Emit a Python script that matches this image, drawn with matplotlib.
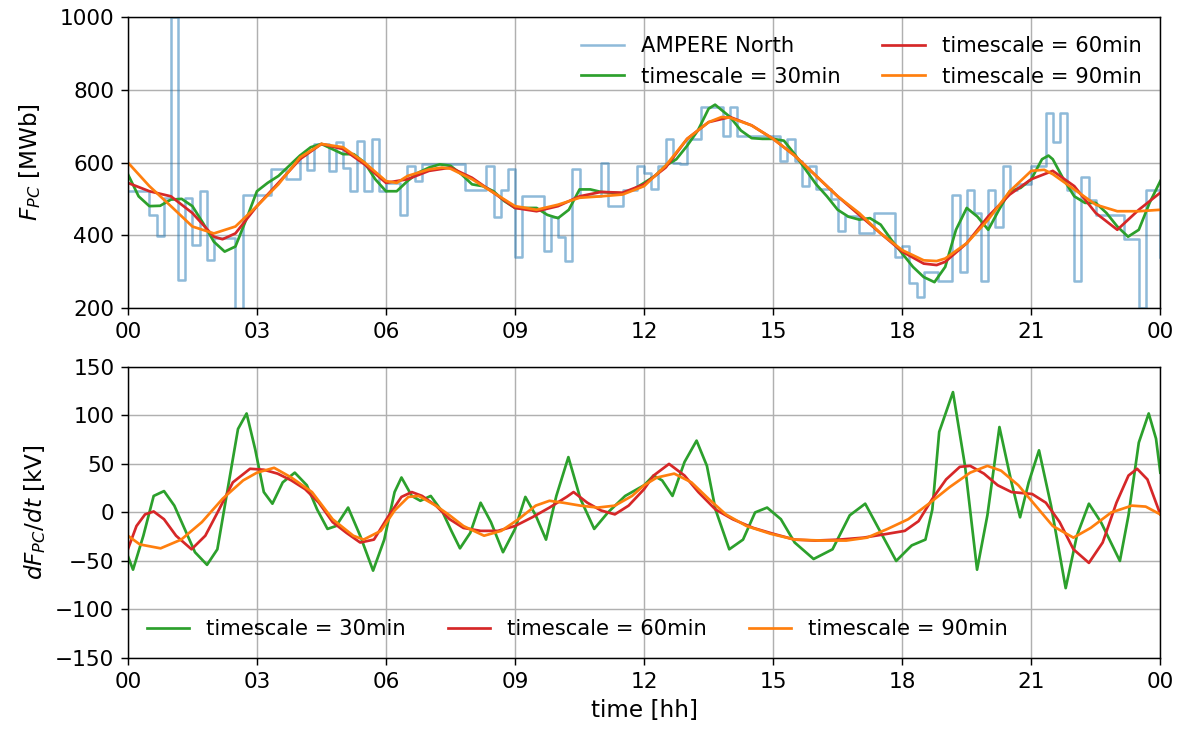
import matplotlib.pyplot as plt

# AMPERE North, 10-minute samples from 00:00 to 24:00
ampere_north = [
    522, 522, 522, 457, 397, 503,
    1000, 277, 503, 374, 522, 333,
    393, 393, 393, 195, 512, 512,
    512, 512, 582, 582, 555, 555,
    620, 580, 650, 650, 577, 655,
    586, 522, 660, 522, 665, 522,
    544, 544, 456, 590, 550, 595,
    595, 595, 595, 595, 595, 525,
    525, 525, 590, 451, 525, 581,
    340, 507, 507, 507, 358, 450,
    395, 330, 581, 507, 507, 507,
    600, 480, 480, 525, 525, 590,
    570, 526, 591, 664, 600, 595,
    664, 664, 752, 752, 752, 673,
    752, 673, 673, 673, 673, 673,
    673, 605, 664, 605, 536, 591,
    526, 526, 500, 411, 453, 453,
    407, 407, 462, 462, 462, 340,
    370, 270, 230, 300, 300, 275,
    275, 512, 300, 525, 460, 275,
    525, 423, 590, 525, 540, 540,
    590, 590, 735, 656, 735, 525,
    275, 560, 498, 456, 456, 456,
    456, 390, 390, 200, 525, 525,
    340,
]
t_ampere = [i / 6 for i in range(len(ampere_north))]

# smoothed F_PC
t_f30 = [0, 0.25, 0.5, 0.75, 1, 1.25, 1.5, 1.75, 2, 2.25, 2.5, 2.75, 3, 3.25, 3.5, 3.75,
         4, 4.25, 4.5, 4.75, 5, 5.25, 5.5, 5.75, 6, 6.25, 6.5, 6.75, 7, 7.25, 7.5, 7.75,
         8, 8.25, 8.5, 8.75, 9, 9.25, 9.5, 9.75, 10, 10.25, 10.5, 10.75, 11, 11.25, 11.5, 11.75,
         12, 12.25, 12.5, 12.75, 13, 13.25, 13.5, 13.65, 14, 14.25, 14.5, 14.75, 15, 15.25, 15.5, 15.75,
         16, 16.25, 16.5, 16.75, 17, 17.25, 17.5, 17.75, 18, 18.25, 18.5, 18.75, 19, 19.25, 19.5, 19.75,
         20, 20.25, 20.5, 20.75, 21, 21.25, 21.4, 21.5, 21.75, 22, 22.25, 22.5, 22.75, 23, 23.25, 23.5, 23.75, 24]
f30 = [568, 507, 480, 481, 498, 500, 480, 433, 382, 355, 369, 443, 521, 544, 563, 591,
       619, 642, 651, 637, 623, 623, 600, 554, 521, 521, 549, 572, 586, 595, 591, 568,
       540, 535, 521, 494, 475, 475, 475, 456, 447, 470, 526, 526, 519, 517, 515, 526,
       544, 563, 591, 609, 646, 688, 748, 759, 725, 688, 667, 665, 665, 660, 623, 581,
       540, 507, 470, 451, 443, 447, 429, 387, 350, 313, 285, 271, 313, 415, 475, 451,
       415, 470, 521, 530, 554, 609, 619, 609, 554, 507, 489, 489, 461, 424, 396, 415, 489, 549]

t_f60 = [0, 0.5, 1, 1.5, 2, 2.2, 2.5, 3, 3.5, 4, 4.5, 5, 5.5, 6, 6.5, 7, 7.5, 8, 8.5, 9, 9.5,
         10, 10.5, 11, 11.5, 12, 12.5, 13, 13.5, 14, 14.5, 15, 15.5, 16, 16.5, 17, 17.5, 18,
         18.5, 18.8, 19, 19.5, 20, 20.5, 21, 21.5, 22, 22.5, 23, 23.5, 24]
f60 = [544, 521, 507, 461, 396, 389, 405, 480, 544, 609, 651, 637, 595, 544, 554, 577, 586, 558, 517, 475, 466,
       480, 507, 519, 517, 540, 586, 665, 711, 725, 702, 665, 619, 563, 507, 456, 405, 355,
       322, 318, 327, 378, 452, 512, 554, 577, 535, 461, 415, 470, 517]

t_f90 = [0, 0.5, 1, 1.5, 2, 2.5, 3, 3.5, 4, 4.5, 5, 5.5, 6, 6.25, 6.5, 7, 7.3, 7.5, 8, 8.5, 9, 9.5,
         10, 10.5, 11, 11.5, 12, 12.5, 13, 13.5, 13.8, 14, 14.5, 15, 15.5, 16, 16.5, 17, 17.5, 18,
         18.5, 18.8, 19, 19.5, 20, 20.5, 21, 21.3, 21.5, 22, 22.5, 23, 23.5, 24]
f90 = [600, 535, 480, 424, 405, 424, 480, 540, 614, 651, 642, 600, 549, 544, 563, 581, 586, 583, 554, 517, 480, 470,
       484, 503, 507, 512, 535, 591, 665, 711, 725, 723, 702, 665, 619, 563, 507, 461, 405, 359,
       331, 329, 336, 378, 443, 521, 577, 580, 568, 526, 484, 466, 466, 470]

# time derivatives dF_PC/dt
t_d30 = [0, 0.12, 0.36, 0.6, 0.84, 1.08, 1.32, 1.56, 1.84, 2.08, 2.32, 2.56, 2.76, 2.96, 3.16, 3.36,
         3.6, 3.88, 4.16, 4.4, 4.64, 4.84, 5.12, 5.4, 5.7, 5.96, 6.2, 6.36, 6.6, 6.8, 7.04, 7.32,
         7.52, 7.72, 7.96, 8.2, 8.44, 8.72, 9.0, 9.24, 9.48, 9.72, 9.96, 10.24, 10.52, 10.84, 11.16, 11.56,
         12.0, 12.22, 12.42, 12.66, 12.94, 13.22, 13.46, 13.66, 13.98, 14.3, 14.58, 14.86, 15.18, 15.5,
         15.94, 16.38, 16.78, 17.14, 17.42, 17.86, 18.22, 18.54, 18.7, 18.86, 19.18, 19.46, 19.74, 19.98,
         20.26, 20.54, 20.74, 20.94, 21.18, 21.46, 21.8, 22.06, 22.34, 22.62, 23.06, 23.26, 23.5, 23.73, 23.9, 24]
d30 = [-45, -59, -24, 17, 22, 7, -17, -41, -54, -38, 24, 86, 102, 65, 21, 9,
       31, 41, 28, 3, -17, -14, 5, -24, -60, -28, 21, 36, 17, 12, 17, 0,
       -19, -37, -21, 10, -10, -41, -17, 16, -3, -28, 17, 57, 14, -17, 0, 17,
       28, 38, 33, 17, 52, 74, 48, 3, -38, -28, 0, 5, -7, -31,
       -48, -38, -3, 9, -14, -50, -34, -28, 3, 83, 124, 48, -59, -3,
       88, 31, -5, 31, 64, 7, -78, -24, 9, -10, -50, -3, 72, 102, 76, 41]

t_d60 = [0, 0.2, 0.4, 0.6, 0.84, 1.12, 1.48, 1.8, 2.12, 2.44, 2.84, 3.16, 3.48, 3.8, 4.12, 4.44,
         4.76, 5.08, 5.4, 5.72, 6.04, 6.36, 6.6, 6.84, 7.16, 7.48, 7.8, 8.2, 8.6, 9.0, 9.4, 9.8,
         10.2, 10.36, 10.68, 11.0, 11.32, 11.64, 12.0, 12.22, 12.58, 12.94, 13.26, 13.66, 14.06, 14.54,
         15.0, 15.5, 15.98, 16.54, 17.1, 17.66, 18.06, 18.38, 18.7, 19.02, 19.34, 19.58, 19.9, 20.22,
         20.54, 21.02, 21.34, 21.66, 21.98, 22.34, 22.66, 22.98, 23.26, 23.46, 23.7, 24]
d60 = [-38, -14, -2, 1, -7, -24, -38, -24, 3, 31, 45, 44, 40, 33, 24, 10,
       -10, -21, -31, -28, -5, 16, 21, 17, 7, -7, -16, -19, -19, -14, -5, 5,
       16, 21, 10, 2, -2, 7, 24, 38, 50, 38, 21, 3, -7, -16,
       -22, -28, -29, -28, -26, -22, -19, -9, 14, 34, 47, 48, 40, 28,
       21, 19, 10, -10, -38, -52, -31, 10, 38, 45, 34, -2]

t_d90 = [0, 0.28, 0.76, 1.24, 1.72, 2.2, 2.68, 3.0, 3.4, 3.8, 4.28, 4.76, 5.24, 5.48, 5.88, 6.2,
         6.52, 6.76, 7.16, 7.48, 7.8, 8.28, 8.68, 9.08, 9.48, 9.8, 10.12, 10.52, 10.92, 11.32, 11.72,
         12.0, 12.3, 12.7, 13.1, 13.5, 13.9, 14.38, 14.94, 15.5, 16.14, 16.7, 17.18, 17.66, 18.14,
         18.62, 19.1, 19.58, 19.98, 20.3, 20.7, 21.1, 21.5, 21.98, 22.38, 22.86, 23.34, 23.66, 24]
d90 = [-24, -33, -37, -28, -10, 14, 33, 41, 46, 36, 21, -7, -24, -28, -19, 2,
       16, 17, 7, -3, -14, -24, -19, -7, 7, 12, 10, 7, 5, 7, 17,
       28, 36, 40, 31, 14, -2, -14, -22, -28, -29, -29, -26, -17, -7,
       9, 26, 41, 48, 43, 28, 7, -14, -26, -16, 0, 7, 6, -2]

hour_ticks = [0, 3, 6, 9, 12, 15, 18, 21, 24]
hour_labels = ["00", "03", "06", "09", "12", "15", "18", "21", "00"]

plt.rcParams["xtick.labelsize"] = 12
plt.rcParams["ytick.labelsize"] = 12
plt.rcParams["axes.labelsize"] = 12.8
plt.rcParams["legend.fontsize"] = 11.7
plt.rcParams["xtick.major.size"] = 4
plt.rcParams["ytick.major.size"] = 4

fig = plt.figure(figsize=(1184 / 130, 731 / 130), dpi=130)
ax1 = fig.add_axes([0.108, 0.5787, 0.872, 0.398])
ax2 = fig.add_axes([0.108, 0.0999, 0.872, 0.3982])

ax1.plot(t_ampere, ampere_north, color="tab:blue", alpha=0.5, lw=1.4,
         drawstyle="steps-post", label="AMPERE North")
ax1.plot(t_f30, f30, color="tab:green", lw=1.5, label="timescale = 30min")
ax1.plot(t_f60, f60, color="tab:red", lw=1.5, label="timescale = 60min")
ax1.plot(t_f90, f90, color="tab:orange", lw=1.5, label="timescale = 90min")
ax1.set_ylim(200, 1000)
ax1.set_yticks([200, 400, 600, 800, 1000])
ax1.set_ylabel("$F_{PC}$ [MWb]", labelpad=9)
ax1.legend(ncol=2, loc="upper right", frameon=False)

ax2.plot(t_d30, d30, color="tab:green", lw=1.5, label="timescale = 30min")
ax2.plot(t_d60, d60, color="tab:red", lw=1.5, label="timescale = 60min")
ax2.plot(t_d90, d90, color="tab:orange", lw=1.5, label="timescale = 90min")
ax2.set_ylim(-150, 150)
ax2.set_yticks([-150, -100, -50, 0, 50, 100, 150])
ax2.set_ylabel("$dF_{PC}/dt$ [kV]", labelpad=4)
ax2.set_xlabel("time [hh]")
ax2.legend(ncol=3, loc="lower left", frameon=False)

for ax in (ax1, ax2):
    ax.set_xlim(0, 24)
    ax.set_xticks(hour_ticks)
    ax.set_xticklabels(hour_labels)
    ax.grid(True)

fig.savefig("out.png", dpi=130)
